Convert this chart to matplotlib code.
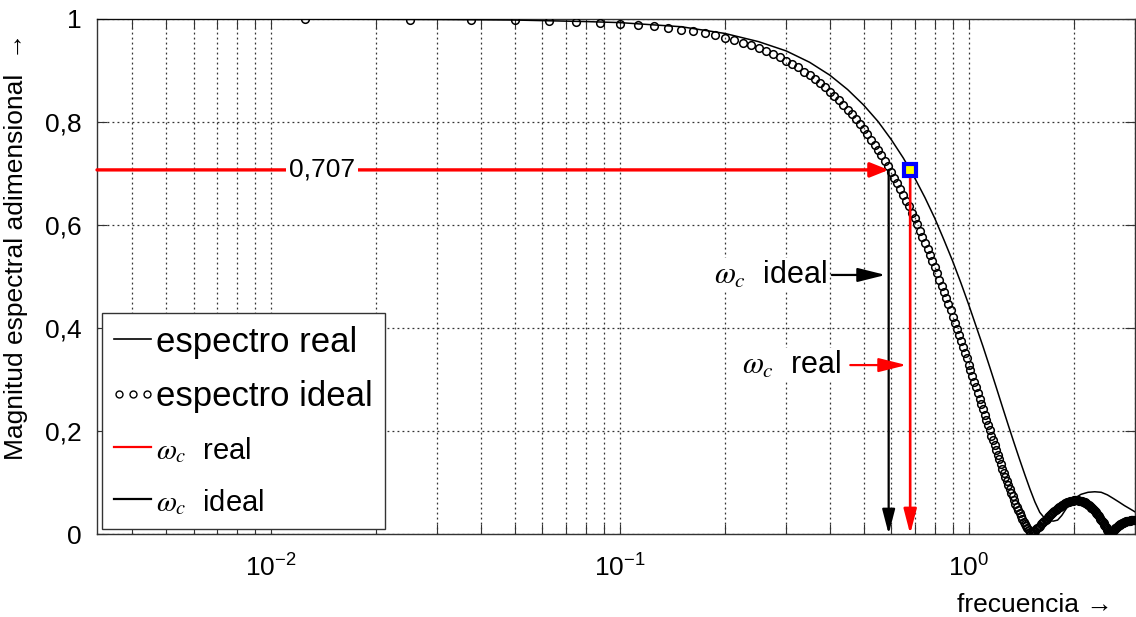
import matplotlib
matplotlib.use("Agg")
import matplotlib.pyplot as plt
from matplotlib.lines import Line2D
from matplotlib.legend_handler import HandlerLine2D
from matplotlib.ticker import FixedLocator, FuncFormatter, LogLocator, NullFormatter
import numpy as np

plt.rcParams['font.family'] = ['Liberation Sans', 'DejaVu Sans']
plt.rcParams['mathtext.fontset'] = 'custom'
plt.rcParams['mathtext.rm'] = 'Liberation Sans'
plt.rcParams['mathtext.it'] = 'Liberation Sans:italic'

# espectro ideal: one circle every 0.0125 of frequency (k = 1, 2, 3, ...)
ideal_step = 0.0125
ideal_mag = [
    1.000, 0.999, 0.999, 0.998, 0.996, 0.995, 0.993, 0.991, 0.988, 0.986,
    0.983, 0.979, 0.976, 0.972, 0.968, 0.963, 0.959, 0.954, 0.949, 0.943,
    0.938, 0.932, 0.926, 0.919, 0.912, 0.906, 0.898, 0.891, 0.883, 0.876,
    0.868, 0.859, 0.851, 0.842, 0.833, 0.824, 0.815, 0.806, 0.796, 0.786,
    0.777, 0.766, 0.756, 0.746, 0.735, 0.725, 0.714, 0.703, 0.692, 0.681,
    0.670, 0.659, 0.647, 0.636, 0.624, 0.613, 0.601, 0.589, 0.577, 0.565,
    0.554, 0.542, 0.530, 0.518, 0.506, 0.494, 0.482, 0.470, 0.458, 0.446,
    0.434, 0.422, 0.410, 0.399, 0.387, 0.375, 0.364, 0.352, 0.341, 0.329,
    0.318, 0.307, 0.296, 0.285, 0.274, 0.263, 0.252, 0.242, 0.232, 0.221,
    0.211, 0.201, 0.191, 0.182, 0.172, 0.163, 0.154, 0.145, 0.136, 0.127,
    0.119, 0.111, 0.103, 0.095, 0.087, 0.080, 0.073, 0.066, 0.059, 0.053,
    0.046, 0.041, 0.035, 0.029, 0.024, 0.019, 0.015, 0.011, 0.007, 0.004,
    0.001, 0.001, 0.004, 0.006, 0.009, 0.011, 0.014, 0.016, 0.019, 0.021,
    0.023, 0.026, 0.028, 0.030, 0.033, 0.035, 0.037, 0.039, 0.041, 0.043,
    0.045, 0.047, 0.048, 0.050, 0.052, 0.053, 0.055, 0.056, 0.057, 0.059,
    0.060, 0.061, 0.062, 0.063, 0.063, 0.064, 0.065, 0.065, 0.065, 0.066,
    0.066, 0.066, 0.066, 0.066, 0.066, 0.065, 0.065, 0.065, 0.064, 0.063,
    0.062, 0.062, 0.061, 0.060, 0.058, 0.057, 0.056, 0.054, 0.053, 0.051,
    0.050, 0.048, 0.046, 0.044, 0.043, 0.041, 0.039, 0.037, 0.034, 0.032,
    0.030, 0.028, 0.025, 0.023, 0.021, 0.018, 0.016, 0.013, 0.011, 0.008,
    0.006, 0.003, 0.001, 0.001, 0.002, 0.003, 0.005, 0.006, 0.008, 0.009,
    0.011, 0.012, 0.013, 0.015, 0.016, 0.017, 0.018, 0.019, 0.020, 0.021,
    0.022, 0.022, 0.023, 0.024, 0.024, 0.025, 0.025, 0.025, 0.026, 0.026,
    0.026, 0.026, 0.027, 0.027, 0.027, 0.027, 0.027, 0.027, 0.027, 0.027,
    0.027, 0.027, 0.027, 0.027,
]
ideal_freq = ideal_step * np.arange(1, len(ideal_mag) + 1)

# espectro real (solid line)
real_freq = [0.003, 0.01, 0.03, 0.05, 0.08, 0.1, 0.15, 0.2, 0.25, 0.3, 0.35,
             0.4, 0.45, 0.5, 0.55, 0.6, 0.65, 0.7, 0.75, 0.8, 0.85, 0.9, 0.95,
             1.0, 1.05, 1.1, 1.15, 1.2, 1.25, 1.3, 1.35, 1.4, 1.45, 1.5, 1.55,
             1.6, 1.65, 1.7, 1.75, 1.8, 1.85, 1.9, 1.95, 2.0, 2.1, 2.2, 2.3,
             2.4, 2.5, 2.6, 2.7, 2.8, 2.9, 3.0, 3.06]
real_mag = [1.000, 1.000, 0.999, 0.998, 0.995, 0.993, 0.985, 0.972, 0.956,
            0.938, 0.916, 0.891, 0.863, 0.833, 0.801, 0.766, 0.730, 0.692,
            0.653, 0.613, 0.571, 0.530, 0.488, 0.446, 0.404, 0.364, 0.324,
            0.285, 0.247, 0.211, 0.177, 0.145, 0.115, 0.087, 0.062, 0.042,
            0.031, 0.026, 0.025, 0.027, 0.036, 0.048, 0.060, 0.068, 0.077,
            0.081, 0.082, 0.081, 0.076, 0.069, 0.062, 0.055, 0.049, 0.043,
            0.040]

cutoff_level = 0.707
wc_ideal = 0.59
wc_real = 0.68

y_ticks = [0, 0.2, 0.4, 0.6, 0.8, 1]
y_tick_labels = ['0', '0,2', '0,4', '0,6', '0,8', '1']

fig = plt.figure(figsize=(11.36, 6.17), dpi=100)
ax = fig.add_axes([97 / 1136, 1 - 534 / 617, 1038 / 1136, 515 / 617])

ax.plot(real_freq, real_mag, color='black', lw=1.1, zorder=3)
ax.plot(ideal_freq, ideal_mag, ls='none', marker='o', ms=5.5, mfc='none',
        mec='black', mew=1.1, zorder=3)

ax.set_xscale('log')
ax.set_xlim(3.17e-3, 3.0)
ax.set_ylim(0, 1)

# 0,707 horizontal arrow
ax.annotate('', xy=(wc_ideal, cutoff_level), xytext=(3.17e-3, cutoff_level),
            arrowprops=dict(arrowstyle='-|>,head_length=1.0,head_width=0.4',
                            color='red', lw=2.4, mutation_scale=11,
                            shrinkA=0, shrinkB=0), zorder=5)
ax.text(0.0140, cutoff_level, '0,707', fontsize=19, ha='center', va='center',
        bbox=dict(facecolor='white', edgecolor='none', pad=2), zorder=6)

# vertical arrows down to the frequency axis
ax.annotate('', xy=(wc_ideal, 0), xytext=(wc_ideal, cutoff_level),
            arrowprops=dict(arrowstyle='-|>,head_length=1.0,head_width=0.26',
                            color='black', lw=1.6, mutation_scale=15,
                            shrinkA=0, shrinkB=0), zorder=5)
ax.annotate('', xy=(wc_real, 0), xytext=(wc_real, cutoff_level),
            arrowprops=dict(arrowstyle='-|>,head_length=1.0,head_width=0.26',
                            color='red', lw=1.9, mutation_scale=15,
                            shrinkA=0, shrinkB=0), zorder=5)
ax.plot([wc_real], [cutoff_level], marker='s', ms=8.5, mfc='yellow',
        mec='blue', mew=3, zorder=7)

# labels with arrows
t1 = ax.annotate(r'$\omega_c$  ideal', xy=(0.578, 0.503), xytext=(0.394, 0.503),
                 fontsize=22, ha='right', va='center',
                 bbox=dict(facecolor='white', edgecolor='none', pad=1),
                 arrowprops=dict(arrowstyle='-|>,head_length=1.0,head_width=0.25',
                                 color='black', lw=1.6, mutation_scale=17,
                                 shrinkA=2, shrinkB=0), zorder=6)
t2 = ax.annotate(r'$\omega_c$  real', xy=(0.664, 0.328), xytext=(0.433, 0.328),
                 fontsize=22, ha='right', va='center',
                 bbox=dict(facecolor='white', edgecolor='none', pad=1),
                 arrowprops=dict(arrowstyle='-|>,head_length=1.0,head_width=0.25',
                                 color='red', lw=1.6, mutation_scale=17,
                                 shrinkA=5, shrinkB=0), zorder=6)
for t in (t1, t2):
    t.set_math_fontfamily('stix')

# grid and ticks
ax.xaxis.set_major_locator(LogLocator(base=10, numticks=10))
ax.xaxis.set_minor_locator(LogLocator(base=10, subs=np.arange(2, 10), numticks=20))
ax.xaxis.set_minor_formatter(NullFormatter())
ax.yaxis.set_major_locator(FixedLocator(y_ticks))
ax.yaxis.set_major_formatter(FuncFormatter(lambda v, p: y_tick_labels[y_ticks.index(round(v, 1))]))
ax.grid(True, which='both', axis='x', color='#333333', lw=0.9, dashes=(1.5, 2.5))
ax.grid(True, which='major', axis='y', color='#333333', lw=0.9, dashes=(1.5, 2.5))
ax.set_axisbelow(True)
ax.tick_params(which='both', direction='in', top=True, right=True, length=7,
               width=0.8, color='#333333', labelsize=19)
ax.tick_params(axis='x', pad=15)
ax.tick_params(axis='y', pad=11)
for s in ax.spines.values():
    s.set_color('#333333')
    s.set_linewidth(1.0)

ax.set_ylabel('Magnitud espectral adimensional  \u2192', fontsize=19)
ax.yaxis.set_label_coords(-0.066, 0.559)
fig.text(1035 / 1136, 1 - 605 / 617, 'frecuencia \u2192', fontsize=19,
         ha='center', va='center')

# legend
handles = [
    Line2D([], [], color='black', lw=1.2),
    Line2D([], [], ls='none', marker='o', ms=5, mfc='none', mec='black', mew=1.0),
    Line2D([], [], color='red', lw=1.6),
    Line2D([], [], color='black', lw=1.6),
]
labels = ['espectro real', 'espectro ideal', r'$\omega_c$  real', r'$\omega_c$  ideal']
leg = ax.legend(handles, labels, loc='lower left', bbox_to_anchor=(0.005, 0.01),
                borderaxespad=0, fontsize=25, handlelength=1.05,
                handletextpad=0.15, labelspacing=0.62, borderpad=0.35,
                fancybox=False, framealpha=1, edgecolor='#333333',
                handler_map={handles[0]: HandlerLine2D(numpoints=1),
                             handles[1]: HandlerLine2D(numpoints=3, marker_pad=0.12),
                             handles[2]: HandlerLine2D(numpoints=1),
                             handles[3]: HandlerLine2D(numpoints=1)})
leg.get_frame().set_linewidth(1.0)
leg.set_zorder(8)
for i, t in enumerate(leg.get_texts()):
    t.set_math_fontfamily('stix')
    if i >= 2:
        t.set_fontsize(21)

fig.savefig('out.png', dpi=100)
